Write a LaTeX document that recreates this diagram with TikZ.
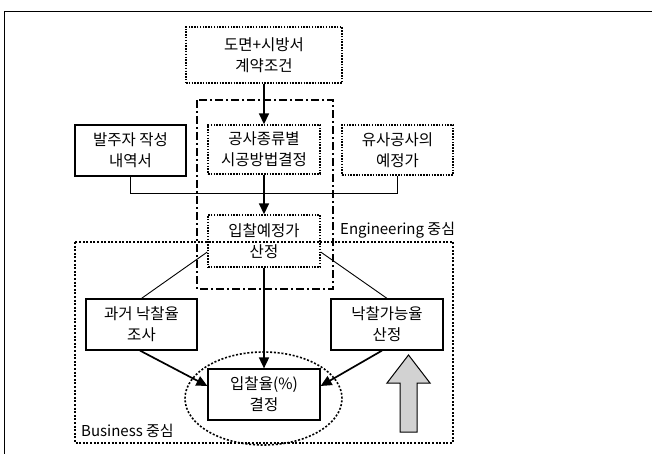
\documentclass[tikz,border=0pt]{standalone}
\usepackage{fontspec}
\setmainfont{Noto Sans CJK KR}
\usetikzlibrary{arrows.meta,calc,shapes.geometric}
\begin{document}
\begin{tikzpicture}[x=1pt,y=-1pt,
  box/.style={rectangle,align=center,inner sep=0pt,font=\fontsize{15.5}{21}\selectfont},
  dotbox/.style={box,draw,line width=1.4pt,dash pattern=on 1.5pt off 1.3pt},
  solidbox/.style={box,draw,line width=1.2pt},
  conn/.style={line width=0.9pt},
  arr/.style={line width=1.7pt,-{Triangle[length=11pt,width=10pt]}},
  lbl/.style={font=\fontsize{15}{16}\selectfont,inner sep=0pt}]
\useasboundingbox (0,0) rectangle (652,454);
% outer frame (top and left)
\draw[line width=0.8pt] (652,11) -- (4,11) -- (4,454);
% engineering region
\draw[line width=1.3pt,dash pattern=on 8pt off 3pt on 2pt off 3pt] (197,100) rectangle (333,289);
% business region
\draw[line width=2pt,dash pattern=on 2pt off 1.6pt] (75,242) rectangle (453,443);
% nodes
\node[dotbox,minimum width=156pt,minimum height=56pt] (top) at (264,55) {도면+시방서\\계약조건};
\node[dotbox,minimum width=112pt,minimum height=49pt] (gong) at (264,149.5) {공사종류별\\시공방법결정};
\node[solidbox,minimum width=111pt,minimum height=51pt] (balju) at (130.5,150.5) {발주자 작성\\내역서};
\node[dotbox,minimum width=111pt,minimum height=50pt] (yusa) at (397.5,150) {유사공사의\\예정가};
\node[dotbox,minimum width=112pt,minimum height=52pt] (ipchal) at (264,241) {입찰예정가\\산정};
\node[solidbox,minimum width=111pt,minimum height=51pt] (gwageo) at (141.5,324.5) {과거 낙찰율\\조사};
\node[solidbox,minimum width=112pt,minimum height=51pt] (nak) at (387,324.5) {낙찰가능율\\산정};
\node[solidbox,minimum width=112pt,minimum height=51pt] (rate) at (264,394.5) {입찰율(\%)\\결정};
\node[ellipse,draw,line width=1.6pt,dash pattern=on 2pt off 1.8pt,minimum width=157pt,minimum height=93pt] (ell) at (263.5,398.5) {};
% labels
\node[lbl,anchor=west] (englbl) at (340,230) {Engineering 중심};
\node[lbl,anchor=west] (buslbl) at (81,431) {Business 중심};
% connectors
\draw[conn] (balju.south) -- ++(0,17) -| (yusa.south);
\draw[arr] (top.south) -- (gong.north);
\draw[arr] (gong.south) -- (ipchal.north);
\draw[arr] (ipchal.south) -- (rate.north);
\draw[conn] ([yshift=-11pt]ipchal.west) -- (gwageo.north);
\draw[conn] ([yshift=-11pt]ipchal.east) -- (nak.north);
\draw[arr] ([xshift=-1.5pt]gwageo.south) -- ([yshift=8.5pt]rate.west);
\draw[arr] ([xshift=-5pt]nak.south) -- ([yshift=8.5pt]rate.east);
% big up arrow
\draw[line width=1pt,fill=gray!35] (400,432) -- (400,383) -- (387,383) -- (408.5,355) -- (430,383) -- (417,383) -- (417,432) -- cycle;
\end{tikzpicture}
\end{document}
